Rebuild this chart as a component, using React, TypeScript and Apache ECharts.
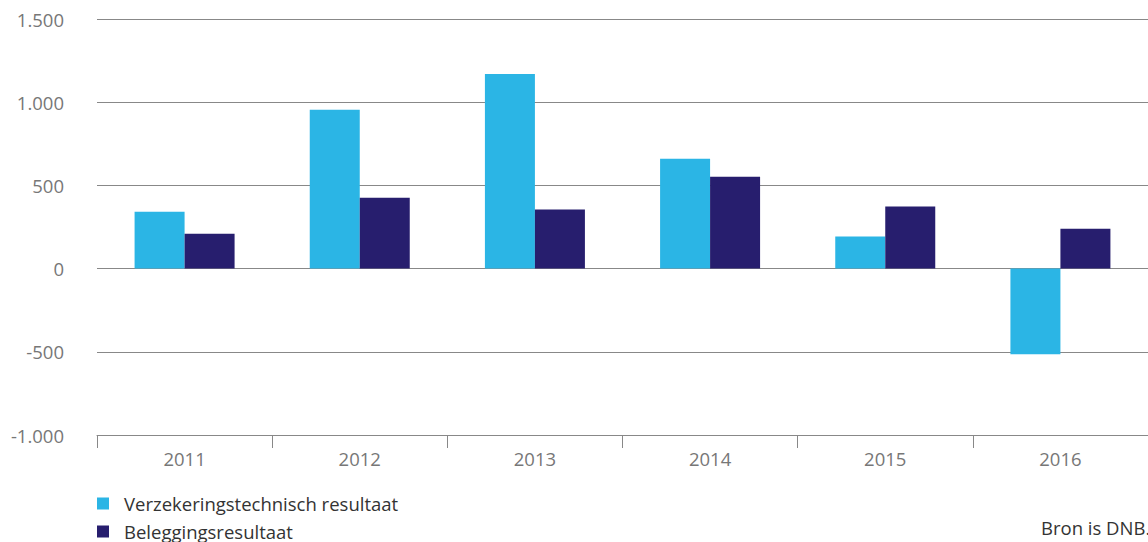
import React, { useEffect, useRef } from "react";
import * as echarts from "echarts";

const categories = ["2011", "2012", "2013", "2014", "2015", "2016"];
const verzekeringstechnisch = [342, 955, 1170, 660, 193, -515];
const beleggingsresultaat = [210, 426, 355, 552, 373, 240];
const seriesNames = ["Verzekeringstechnisch resultaat", "Beleggingsresultaat"];
const sourceText = "Bron is DNB.";

const FONT = "'Open Sans', 'Noto Sans', sans-serif";
const FS = 18.5;

export default function App() {
  const ref = useRef<HTMLDivElement>(null);
  useEffect(() => {
    if (!ref.current) return;
    const chart = echarts.init(ref.current, undefined, { renderer: "svg" });
    const legendBase = {
      orient: "horizontal",
      left: 92,
      itemWidth: 12,
      itemHeight: 12,
      icon: "rect",
      textStyle: { fontSize: FS, color: "#333", fontFamily: FONT, padding: [0, 0, 0, 10] },
    };
    chart.setOption({
      animation: false,
      textStyle: { fontFamily: FONT },
      grid: { left: 97, right: 0, top: 19, bottom: 107, containLabel: false },
      legend: [
        { ...legendBase, top: 489, data: [seriesNames[0]] },
        { ...legendBase, top: 517, data: [seriesNames[1]] },
      ],
      xAxis: {
        type: "category",
        data: categories,
        axisLine: { onZero: false, lineStyle: { color: "#888", width: 1 } },
        axisTick: { show: true, length: 13, lineStyle: { color: "#888" }, alignWithLabel: false },
        axisLabel: { color: "#777", fontSize: FS, margin: 14, fontFamily: FONT },
        splitLine: { show: false },
      },
      yAxis: {
        type: "value",
        min: -1000,
        max: 1500,
        interval: 500,
        axisLine: { show: false },
        axisTick: { show: false },
        axisLabel: {
          color: "#777",
          fontSize: FS,
          margin: 33,
          fontFamily: FONT,
          formatter: (v: number) => {
            const s = Math.abs(v).toString().replace(/\B(?=(\d{3})+(?!\d))/g, ".");
            return (v < 0 ? "-" : "") + s;
          },
        },
        splitLine: { lineStyle: { color: "#888", width: 1 } },
      },
      series: [
        {
          name: seriesNames[0],
          type: "bar",
          data: verzekeringstechnisch,
          barWidth: 50,
          barGap: "0%",
          itemStyle: { color: "#2bb5e5" },
        },
        {
          name: seriesNames[1],
          type: "bar",
          data: beleggingsresultaat,
          barWidth: 50,
          barGap: "0%",
          itemStyle: { color: "#271e6e" },
        },
      ],
      graphic: [
        {
          type: "text",
          left: 1041,
          top: 518,
          style: { text: sourceText, fontSize: FS, fill: "#333", fontFamily: FONT },
        },
      ],
    });
    return () => chart.dispose();
  }, []);
  return <div ref={ref} style={{ width: 1148, height: 542, position: "absolute", left: 0, top: 0 }} />;
}
